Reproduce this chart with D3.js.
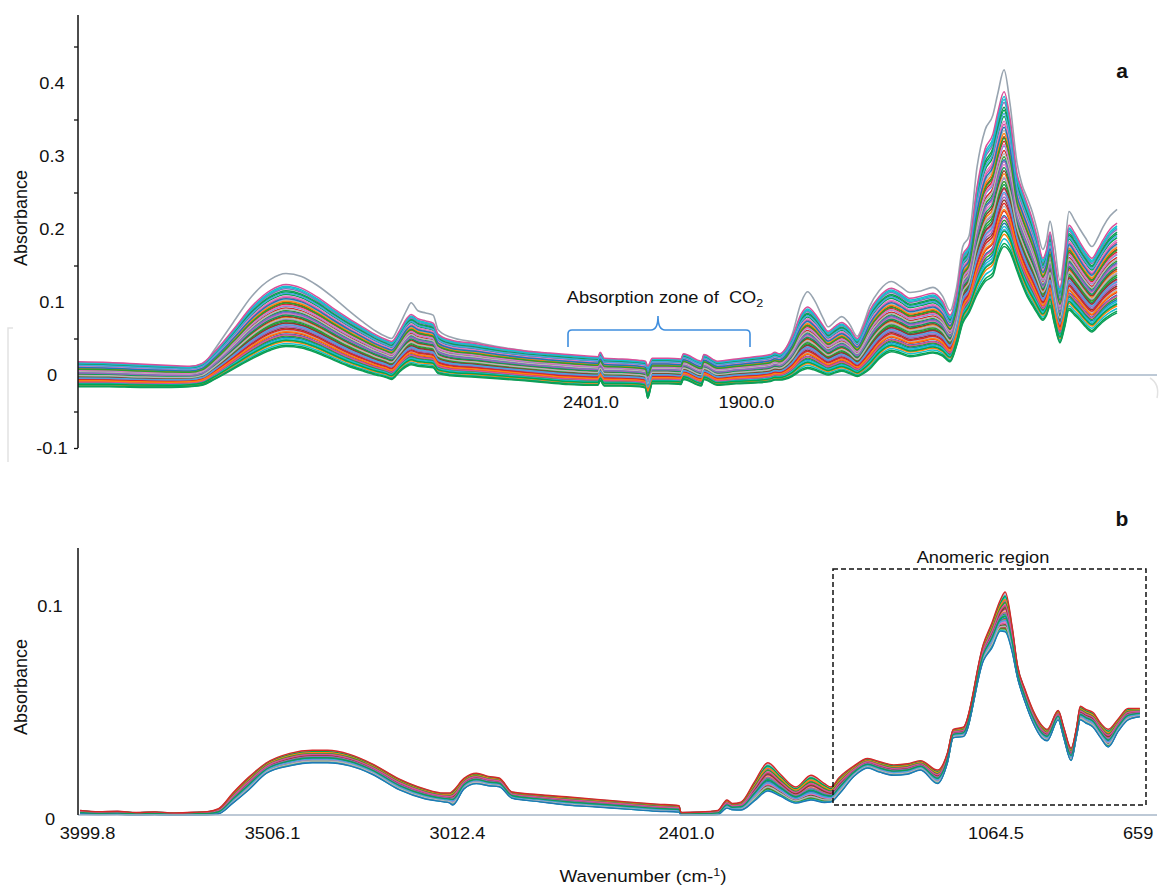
<!DOCTYPE html>
<html>
<head>
<meta charset="utf-8">
<script src="https://cdn.jsdelivr.net/npm/d3@7"></script>
<style>
  html, body { margin: 0; padding: 0; background: #fff; }
  svg { display: block; font-family: "Liberation Sans", Arial, sans-serif; }
</style>
</head>
<body>
<svg id="chart" width="1161" height="887"></svg>
<script>
// ---------- Panel a: raw FTIR spectra ----------
// wavenumber nodes (cm-1) and the spectral profiles at those nodes
const wnA = [4000, 3900, 3800, 3700, 3640, 3600, 3560, 3500, 3440, 3380, 3330, 3280, 3230, 3180, 3130, 3080,
  3040, 3010, 2990, 2965, 2940, 2927, 2905, 2880, 2856, 2840, 2800, 2720, 2650, 2560, 2480, 2420, 2360,
  2325, 2318, 2305, 2250, 2190, 2172, 2165, 2150, 2100, 2058, 2050, 1992, 1984, 1940, 1880, 1820, 1770,
  1755, 1740, 1700, 1670, 1650, 1630, 1600, 1584, 1560, 1540, 1515, 1490, 1470, 1450, 1420, 1380, 1350,
  1320, 1285, 1246, 1215, 1191, 1170, 1150, 1130, 1104, 1078, 1053, 1037, 1017, 998, 975, 960, 943, 925,
  911, 892, 880, 869, 855, 837, 822, 808, 790, 773, 755, 734, 715, 698, 675, 653];

// highest outlier spectrum (grey)
const outlierA = [0.006, 0.006, 0.005, 0.004, 0.005, 0.012, 0.035, 0.072, 0.108, 0.131, 0.139, 0.135, 0.123, 0.107, 0.089, 0.072,
  0.060, 0.053, 0.050, 0.068, 0.090, 0.099, 0.088, 0.085, 0.082, 0.062, 0.052, 0.045, 0.039, 0.033, 0.029, 0.026, 0.024,
  0.023, 0.028, 0.021, 0.019, 0.017, 0.015, 0.008, 0.019, 0.019, 0.018, 0.025, 0.016, 0.024, 0.016, 0.019, 0.022, 0.025,
  0.029, 0.027, 0.055, 0.100, 0.114, 0.104, 0.078, 0.066, 0.074, 0.080, 0.070, 0.053, 0.070, 0.094, 0.115, 0.128, 0.121,
  0.113, 0.115, 0.120, 0.108, 0.088, 0.120, 0.176, 0.190, 0.285, 0.336, 0.356, 0.386, 0.418, 0.372, 0.290, 0.262, 0.243, 0.222,
  0.200, 0.172, 0.185, 0.211, 0.180, 0.130, 0.170, 0.224, 0.212, 0.200, 0.188, 0.176, 0.188, 0.203, 0.218, 0.227];

// upper edge of the main group of spectra
const upperA = [0.018, 0.017, 0.015, 0.013, 0.012, 0.016, 0.032, 0.062, 0.094, 0.116, 0.124, 0.119, 0.107, 0.092, 0.078, 0.065,
  0.055, 0.049, 0.046, 0.060, 0.078, 0.083, 0.077, 0.074, 0.071, 0.056, 0.048, 0.043, 0.038, 0.033, 0.030, 0.028, 0.026,
  0.025, 0.031, 0.023, 0.022, 0.020, 0.019, 0.012, 0.023, 0.023, 0.022, 0.029, 0.019, 0.028, 0.019, 0.022, 0.025, 0.028,
  0.031, 0.029, 0.052, 0.084, 0.093, 0.086, 0.068, 0.060, 0.067, 0.072, 0.064, 0.050, 0.066, 0.088, 0.107, 0.119, 0.113,
  0.105, 0.108, 0.112, 0.101, 0.082, 0.110, 0.165, 0.178, 0.258, 0.310, 0.330, 0.360, 0.388, 0.352, 0.275, 0.255, 0.235, 0.212,
  0.190, 0.160, 0.172, 0.196, 0.160, 0.120, 0.160, 0.205, 0.195, 0.182, 0.170, 0.160, 0.172, 0.185, 0.200, 0.208];

// lower edge of the main group of spectra
const lowerA = [-0.016, -0.016, -0.017, -0.017, -0.016, -0.014, -0.006, 0.008, 0.022, 0.034, 0.039, 0.037, 0.030, 0.021, 0.012, 0.005,
  0.000, -0.003, -0.006, 0.004, 0.012, 0.014, 0.012, 0.011, 0.010, 0.002, -0.001, -0.003, -0.005, -0.008, -0.011, -0.013, -0.014,
  -0.014, -0.008, -0.015, -0.015, -0.016, -0.018, -0.032, -0.012, -0.012, -0.013, -0.006, -0.015, -0.006, -0.014, -0.012, -0.011, -0.009,
  -0.007, -0.007, -0.002, 0.006, 0.009, 0.007, 0.002, 0.000, 0.003, 0.005, 0.002, -0.002, 0.002, 0.008, 0.022, 0.032, 0.029,
  0.025, 0.027, 0.030, 0.026, 0.018, 0.040, 0.071, 0.085, 0.110, 0.128, 0.136, 0.160, 0.176, 0.168, 0.142, 0.125, 0.108, 0.095,
  0.085, 0.075, 0.082, 0.094, 0.070, 0.044, 0.065, 0.089, 0.082, 0.075, 0.066, 0.059, 0.066, 0.073, 0.080, 0.085];

// position of each sample between the lower (0) and upper (1) edge
const samplesA = [0.62, 0.15, 0.88, 0.34, 0.71, 0.05, 0.47, 0.93, 0.26, 0.58, 0.11, 0.79, 0.40, 0.68, 0.20, 0.84,
  0.53, 0.30, 0.97, 0.08, 0.44, 0.75, 0.17, 0.65, 0.37, 0.90, 0.23, 0.56, 0.02, 0.81, 0.49, 0.13, 0.73, 0.32,
  0.60, 0.42, 0.86, 0.19, 0.51, 0.28, 0.77, 0.10, 0.66, 0.38, 0.95, 0.24, 0.55, 0.45, 0.70, 0.35, 1.00, 0.00];

const yTicksA = [0.4, 0.3, 0.2, 0.1, 0, -0.1];
const yMinorA = [0.45, 0.35, 0.25, 0.15, 0.05, -0.05, -0.1];
const co2Ticks = [2401.0, 1900.0];
const co2Labels = ["2401.0", "1900.0"];

// ---------- Panel b: preprocessed spectra (CO2 zone removed) ----------
const wnB = [4000, 3950, 3900, 3850, 3800, 3750, 3700, 3660, 3630, 3592, 3550, 3502, 3440, 3380, 3339, 3280,
  3220, 3147, 3080, 3030, 3014, 3005, 2975, 2942, 2910, 2881, 2846, 2780, 2702, 2620, 2540, 2460, 2401,
  1900, 1850, 1800, 1775, 1760, 1737, 1700, 1664, 1630, 1588, 1547, 1510, 1493, 1470, 1430, 1393, 1360,
  1322, 1285, 1249, 1203, 1176, 1160, 1133, 1078, 1055, 1032, 1019, 1000, 986, 965, 943, 920, 905, 875,
  860, 840, 825, 815, 800, 780, 760, 739, 712, 685, 653];

const upperB = [0.0022, 0.0016, 0.0018, 0.0012, 0.0015, 0.0010, 0.0013, 0.0016, 0.0030, 0.0105, 0.0180, 0.0250, 0.0295, 0.0310, 0.0310, 0.0290,
  0.0245, 0.0172, 0.0125, 0.0105, 0.0105, 0.0115, 0.0175, 0.0200, 0.0185, 0.0177, 0.0110, 0.0098, 0.0087, 0.0075, 0.0063, 0.0052, 0.0045,
  0.0012, 0.0014, 0.0022, 0.0072, 0.0055, 0.0062, 0.0160, 0.0250, 0.0195, 0.0134, 0.0190, 0.0150, 0.0134, 0.0180, 0.0235, 0.0270, 0.0255,
  0.0240, 0.0245, 0.0260, 0.0215, 0.0297, 0.0410, 0.0420, 0.0820, 0.0920, 0.1030, 0.1067, 0.0900, 0.0720, 0.0600, 0.0500, 0.0430, 0.0410, 0.0500,
  0.0420, 0.0320, 0.0420, 0.0520, 0.0505, 0.0490, 0.0440, 0.0410, 0.0460, 0.0510, 0.0510];

const lowerB = [0.0005, 0.0002, 0.0003, 0.0000, 0.0002, -0.0002, 0.0000, 0.0001, 0.0006, 0.0057, 0.0120, 0.0200, 0.0235, 0.0250, 0.0250, 0.0235,
  0.0195, 0.0120, 0.0078, 0.0063, 0.0058, 0.0048, 0.0125, 0.0150, 0.0140, 0.0135, 0.0080, 0.0065, 0.0048, 0.0038, 0.0028, 0.0018, 0.0014,
  0.0000, 0.0001, 0.0002, 0.0033, 0.0025, 0.0024, 0.0068, 0.0115, 0.0090, 0.0057, 0.0072, 0.0060, 0.0062, 0.0100, 0.0185, 0.0225, 0.0205,
  0.0190, 0.0195, 0.0215, 0.0150, 0.0250, 0.0370, 0.0375, 0.0740, 0.0800, 0.0880, 0.0876, 0.0780, 0.0660, 0.0540, 0.0440, 0.0370, 0.0355, 0.0455,
  0.0370, 0.0260, 0.0380, 0.0455, 0.0440, 0.0420, 0.0370, 0.0325, 0.0400, 0.0455, 0.0470];

const samplesB = [0.55, 0.12, 0.83, 0.31, 0.68, 0.04, 0.45, 0.92, 0.22, 0.61, 0.09, 0.76, 0.38, 0.71, 0.18, 0.87,
  0.50, 0.27, 0.96, 0.07, 0.42, 0.79, 0.15, 0.64, 0.34, 0.89, 0.25, 0.58, 0.02, 0.81, 0.48, 0.14, 0.73, 0.29,
  0.66, 0.40, 1.00, 0.00];

const yTicksB = [0.1, 0];
const xTicksB = [3999.8, 3506.1, 3012.4, 2401.0, 1064.5, 659];
const xLabelsB = ["3999.8", "3506.1", "3012.4", "2401.0", "1064.5", "659"];

// line colours cycled over the samples
const palette = ["#d62728", "#1f77b4", "#00a651", "#e377c2", "#8c3b2b", "#17becf", "#ff7f0e",
  "#9467bd", "#b5b5b5", "#2ca02c", "#4aa3df", "#d84f9a", "#0f9d58"];

// ---------- drawing ----------
const svg = d3.select("#chart");
const ink = "#111";
const axisGrey = "#a7b7c8";
const textScale = 1.14;

function label(g, x, y, s, size, anchor) {
  return g.append("text")
    .attr("transform", `translate(${x},${y}) scale(${textScale},1)`)
    .attr("text-anchor", anchor || "middle")
    .attr("font-size", size || 16)
    .attr("fill", ink)
    .text(s);
}

function spectrum(wn, lo, hi, level) {
  return wn.map((w, i) => [w, lo[i] + level * (hi[i] - lo[i])]);
}

// faint frame remnants around panel a
svg.append("path").attr("d", "M13,328 H8 V462").attr("fill", "none").attr("stroke", "#e2e2e2").attr("stroke-width", 1.5);
svg.append("path").attr("d", "M1150,378 Q1160,384 1157,398").attr("fill", "none").attr("stroke", "#e2e2e2").attr("stroke-width", 1.5);

// ===== Panel a =====
const xA = d3.scaleLinear().domain([4000, 650]).range([78, 1118]);
const yA = d3.scaleLinear().domain([-0.1, 0.5]).range([448, 10]);
const gA = svg.append("g");

// zero line
gA.append("line")
  .attr("x1", 78).attr("x2", 1157)
  .attr("y1", yA(0)).attr("y2", yA(0))
  .attr("stroke", axisGrey).attr("stroke-width", 1.4);

const lineA = d3.line().x(d => xA(d[0])).y(d => yA(d[1])).curve(d3.curveMonotoneX);

gA.append("path")
  .attr("d", lineA(wnA.map((w, i) => [w, outlierA[i]])))
  .attr("fill", "none").attr("stroke", "#98a4b0").attr("stroke-width", 1.6);

gA.selectAll("path.sa")
  .data(samplesA)
  .join("path")
  .attr("class", "sa")
  .attr("d", l => lineA(spectrum(wnA, lowerA, upperA, l)))
  .attr("fill", "none")
  .attr("stroke", (l, i) => palette[i % palette.length])
  .attr("stroke-width", 1.5)
  .attr("stroke-linejoin", "round");

// y axis: line + minor ticks
const axA = gA.append("g").attr("transform", "translate(78,0)");
axA.append("line").attr("x1", 0).attr("x2", 0).attr("y1", yA(0.493)).attr("y2", yA(-0.1))
  .attr("stroke", ink).attr("stroke-width", 1.5);
axA.append("g")
  .call(d3.axisLeft(yA).tickValues(yMinorA).tickSize(4).tickFormat(""))
  .call(g => g.select(".domain").remove())
  .call(g => g.selectAll("line").attr("stroke", ink).attr("stroke-width", 1.3));
axA.append("g")
  .call(d3.axisLeft(yA).tickValues(yTicksA).tickSize(0).tickFormat(d => String(d)))
  .call(g => g.select(".domain").remove())
  .call(g => g.selectAll("text")
    .attr("x", null)
    .attr("transform", `translate(-26,0) scale(${textScale},1)`)
    .attr("text-anchor", "middle")
    .attr("font-size", 16)
    .attr("font-family", "Liberation Sans, Arial, sans-serif")
    .attr("fill", ink));

// CO2 zone labels
gA.append("g").attr("transform", `translate(0,${yA(0) + 22})`)
  .call(d3.axisBottom(xA).tickValues(co2Ticks).tickSize(0).tickFormat((d, i) => co2Labels[i]))
  .call(g => g.select(".domain").remove())
  .call(g => g.selectAll("text")
    .attr("y", null).attr("dy", "0.71em")
    .attr("transform", `translate(16,0) scale(${textScale},1)`)
    .attr("font-size", 16)
    .attr("font-family", "Liberation Sans, Arial, sans-serif")
    .attr("fill", ink));

// brace over the CO2 absorption zone
gA.append("path")
  .attr("d", "M568,347 V334 Q568,330 572,330 H651 Q658,330 658,316 Q658,330 665,330 H746 Q750,330 750,334 V347")
  .attr("fill", "none").attr("stroke", "#3f8ede").attr("stroke-width", 1.6);

const co2 = gA.append("text")
  .attr("transform", `translate(665,303) scale(${textScale},1)`)
  .attr("text-anchor", "middle").attr("font-size", 16).attr("fill", ink)
  .attr("xml:space", "preserve");
co2.append("tspan").text("Absorption zone of  CO");
co2.append("tspan").attr("font-size", 11).attr("dy", 4).text("2");

// y title
gA.append("text")
  .attr("transform", "translate(27,218) rotate(-90)")
  .attr("text-anchor", "middle").attr("font-size", 18).attr("fill", ink)
  .text("Absorbance");

gA.append("text").attr("x", 1122).attr("y", 78).attr("text-anchor", "middle")
  .attr("font-size", 21).attr("font-weight", "bold").attr("fill", ink).text("a");

// ===== Panel b =====
const xB = d3.scaleLinear().domain([4000, 2401, 1900, 650]).range([80, 679, 681, 1141]);
const yB = d3.scaleLinear().domain([0, 0.1]).range([815, 606]);
const gB = svg.append("g");

const lineB = d3.line().x(d => xB(d[0])).y(d => yB(d[1])).curve(d3.curveMonotoneX);

gB.selectAll("path.sb")
  .data(samplesB)
  .join("path")
  .attr("class", "sb")
  .attr("d", l => lineB(spectrum(wnB, lowerB, upperB, l)))
  .attr("fill", "none")
  .attr("stroke", (l, i) => palette[(i + 3) % palette.length])
  .attr("stroke-width", 1.4)
  .attr("stroke-linejoin", "round");

// x axis
const axBx = gB.append("g").attr("transform", `translate(0,${yB(0)})`);
axBx.append("line").attr("x1", 78).attr("x2", 1157).attr("y1", 0).attr("y2", 0)
  .attr("stroke", axisGrey).attr("stroke-width", 1.4);
axBx.append("g")
  .call(d3.axisBottom(xB).tickValues(xTicksB).tickSize(0).tickPadding(13).tickFormat((d, i) => xLabelsB[i]))
  .call(g => g.select(".domain").remove())
  .call(g => g.selectAll("text")
    .attr("transform", (d, i) => `translate(${i === xTicksB.length - 1 ? 0 : 7},0) scale(${textScale},1)`)
    .attr("font-size", 16)
    .attr("font-family", "Liberation Sans, Arial, sans-serif")
    .attr("fill", ink));

// y axis
const axBy = gB.append("g").attr("transform", "translate(78,0)");
axBy.append("line").attr("x1", 0).attr("x2", 0).attr("y1", 548).attr("y2", yB(0))
  .attr("stroke", ink).attr("stroke-width", 1.5);
axBy.append("g")
  .call(d3.axisLeft(yB).tickValues(yTicksB).tickSize(0).tickFormat(d => String(d)))
  .call(g => g.select(".domain").remove())
  .call(g => g.selectAll("text")
    .attr("x", null)
    .attr("transform", (d) => `translate(-28,${d === 0 ? 4 : 0}) scale(${textScale},1)`)
    .attr("text-anchor", "middle")
    .attr("font-size", 16)
    .attr("font-family", "Liberation Sans, Arial, sans-serif")
    .attr("fill", ink));

gB.append("text")
  .attr("transform", "translate(27,687) rotate(-90)")
  .attr("text-anchor", "middle").attr("font-size", 18).attr("fill", ink)
  .text("Absorbance");

// x title
const xt = gB.append("text")
  .attr("transform", `translate(643,882) scale(${textScale},1)`)
  .attr("text-anchor", "middle").attr("font-size", 16.5).attr("fill", ink);
xt.append("tspan").text("Wavenumber (cm-");
xt.append("tspan").attr("font-size", 11).attr("dy", -6).text("1");
xt.append("tspan").attr("dy", 6).text(")");

// anomeric region box
gB.append("rect")
  .attr("x", 833).attr("y", 569).attr("width", 313).attr("height", 236)
  .attr("fill", "none").attr("stroke", ink).attr("stroke-width", 1.5)
  .attr("stroke-dasharray", "5,3");
label(gB, 983, 563, "Anomeric region", 16);

gB.append("text").attr("x", 1122).attr("y", 526).attr("text-anchor", "middle")
  .attr("font-size", 21).attr("font-weight", "bold").attr("fill", ink).text("b");
</script>
</body>
</html>
